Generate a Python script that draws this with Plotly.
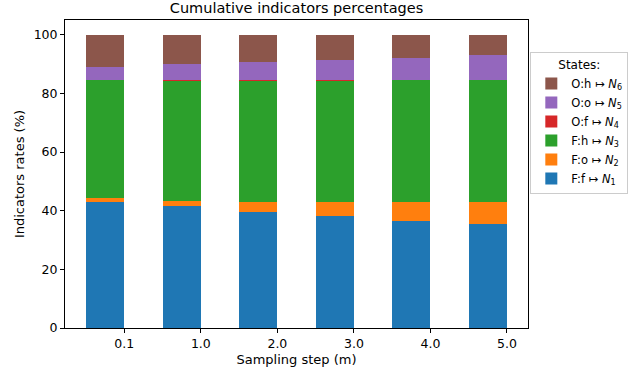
import plotly.graph_objects as go

# Sampling steps (tick labels) and stacked indicator shares (%)
steps = ["0.1", "1.0", "2.0", "3.0", "4.0", "5.0"]
n1 = [43.0, 41.5, 39.7, 38.3, 36.6, 35.3]   # F:f
n2 = [1.2, 1.9, 3.4, 4.5, 6.2, 7.8]         # F:o
n3 = [40.4, 40.9, 41.2, 41.5, 41.8, 41.5]   # F:h
n4 = [0.0, 0.4, 0.4, 0.4, 0.0, 0.0]         # O:f
n5 = [4.5, 5.4, 6.1, 6.8, 7.6, 8.3]         # O:o
n6 = [10.9, 9.9, 9.2, 8.5, 7.8, 7.1]        # O:h

series = [
    ("F:f ↦ <i>N</i><sub>1</sub>", n1, "#1f77b4"),
    ("F:o ↦ <i>N</i><sub>2</sub>", n2, "#ff7f0e"),
    ("F:h ↦ <i>N</i><sub>3</sub>", n3, "#2ca02c"),
    ("O:f ↦ <i>N</i><sub>4</sub>", n4, "#d62728"),
    ("O:o ↦ <i>N</i><sub>5</sub>", n5, "#9467bd"),
    ("O:h ↦ <i>N</i><sub>6</sub>", n6, "#8c564b"),
]

xpos = list(range(len(steps)))

fig = go.Figure()
for name, vals, color in series:
    fig.add_trace(go.Bar(
        x=xpos, y=vals, name=name,
        width=0.5, offset=-0.5,
        marker=dict(color=color, line=dict(width=0)),
    ))

font = "DejaVu Sans, sans-serif"
axis_common = dict(
    showline=True, linecolor="black", linewidth=1, mirror=True,
    ticks="outside", ticklen=4, tickcolor="black",
    showgrid=False, zeroline=False, automargin=False,
    tickfont=dict(family=font, size=12.5, color="black"),
)

fig.update_layout(
    width=640, height=371,
    barmode="stack", bargap=0,
    plot_bgcolor="white", paper_bgcolor="white",
    margin=dict(l=65, r=112, t=20, b=43),
    title=dict(text="Cumulative indicators percentages", x=0.5, xref="paper",
               y=0.978, yanchor="middle",
               font=dict(family=font, size=14.5, color="black")),
    xaxis=dict(range=[-0.775, 5.275], tickvals=xpos, ticktext=steps,
               title=dict(text="Sampling step (m)", standoff=4,
                          font=dict(family=font, size=13, color="black")),
               **axis_common),
    yaxis=dict(range=[0, 105], tickvals=[0, 20, 40, 60, 80, 100],
               title=dict(text="Indicators rates (%)", standoff=6,
                          font=dict(family=font, size=13, color="black")),
               **axis_common),
    legend=dict(x=1.005, y=0.895, xanchor="left", yanchor="top",
                traceorder="reversed",
                title=dict(text="States:", side="top center",
                           font=dict(family=font, size=12, color="black")),
                font=dict(family=font, size=11.5, color="black"),
                bordercolor="#cccccc", borderwidth=1, bgcolor="white",
                itemsizing="constant", itemwidth=30, tracegroupgap=0),
    showlegend=True,
)

fig.write_html("out.html")
